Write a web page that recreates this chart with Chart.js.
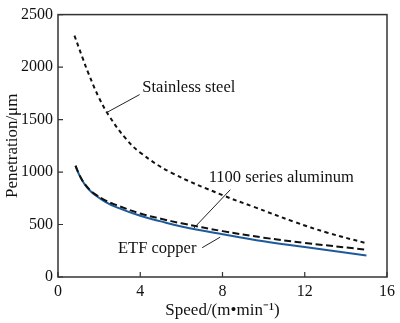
<!DOCTYPE html>
<html><head><meta charset="utf-8">
<script src="https://cdn.jsdelivr.net/npm/chart.js@4"></script>
<style>html,body{margin:0;padding:0;background:#fff}</style>
</head><body>
<canvas id="c" width="400" height="323"></canvas>
<script>
// ---- data ----
const stainlessX = [0.8, 1.2, 1.5, 2, 2.5, 3.3, 4, 5.5, 8, 9.5, 11.5, 13.1, 15];
const stainlessY = [2300, 2085, 1930, 1705, 1530, 1318, 1185, 995, 780, 670, 525, 422, 322];
const aluminumX = [0.85, 1.05, 1.3, 1.55, 1.8, 2.3, 2.8, 4, 5, 6, 8, 10, 12, 15];
const aluminumY = [1060, 968, 886, 830, 790, 730, 688, 605, 555, 512, 437, 375, 325, 260];
const copperX = [0.85, 1.05, 1.3, 1.55, 1.8, 2.3, 2.8, 4, 5, 6, 8, 10, 12, 15];
const copperY = [1060, 966, 882, 824, 781, 716, 668, 583, 530, 482, 408, 340, 285, 205];
const xTicks = [0, 4, 8, 12, 16];
const yTicks = [0, 500, 1000, 1500, 2000, 2500];
const xTitle = 'Speed/(m\u2022min\u207B\u00B9)';
const yTitle = 'Penetration/\u03BCm';
const seriesNames = ['Stainless steel', '1100 series aluminum', 'ETF copper'];

const pts = (xs, ys) => xs.map((x, i) => ({x, y: ys[i]}));
const SERIF = '"Liberation Serif", "Times New Roman", serif';
const BLUE = '#1d5a9c';

// annotation label anchors in data units (text start, leader from -> to)
const notes = [
  {text: seriesNames[0], tx: 4.1, ty: 1800, align: 'left', l: [3.97, 1738, 2.37, 1567]},
  {text: seriesNames[1], tx: 7.33, ty: 947, align: 'left', l: [8.38, 832, 6.61, 466]},
  {text: seriesNames[2], tx: 2.92, ty: 272, align: 'left', l: [7.01, 279, 7.89, 380]}
];

const frame = {
  id: 'frame',
  afterDatasetsDraw(chart) {
    const {ctx, chartArea: a, scales: {x, y}} = chart;
    ctx.save();
    ctx.strokeStyle = '#333';
    ctx.lineWidth = 1.5;
    ctx.strokeRect(a.left, a.top, a.right - a.left, a.bottom - a.top);
    ctx.lineWidth = 1.2;
    ctx.beginPath();
    xTicks.forEach(v => { const px = x.getPixelForValue(v); ctx.moveTo(px, a.bottom); ctx.lineTo(px, a.bottom - 5); });
    yTicks.forEach(v => { const py = y.getPixelForValue(v); ctx.moveTo(a.left, py); ctx.lineTo(a.left + 5, py); });
    ctx.stroke();
    // annotations
    ctx.fillStyle = '#111';
    ctx.strokeStyle = '#222';
    ctx.lineWidth = 1;
    ctx.font = '16.5px ' + SERIF;
    ctx.textBaseline = 'middle';
    notes.forEach(n => {
      ctx.textAlign = n.align;
      ctx.fillText(n.text, x.getPixelForValue(n.tx), y.getPixelForValue(n.ty));
      ctx.beginPath();
      ctx.moveTo(x.getPixelForValue(n.l[0]), y.getPixelForValue(n.l[1]));
      ctx.lineTo(x.getPixelForValue(n.l[2]), y.getPixelForValue(n.l[3]));
      ctx.stroke();
    });
    ctx.restore();
  }
};

new Chart(document.getElementById('c'), {
  type: 'line',
  data: {
    datasets: [
      {label: seriesNames[0], data: pts(stainlessX, stainlessY), borderColor: '#111', borderWidth: 2, borderDash: [4, 3.5], order: 0},
      {label: seriesNames[1], data: pts(aluminumX, aluminumY), borderColor: '#111', borderWidth: 2, borderDash: [7, 3.5], order: 1},
      {label: seriesNames[2], data: pts(copperX, copperY), borderColor: BLUE, borderWidth: 2, order: 2}
    ]
  },
  options: {
    responsive: false,
    animation: false,
    devicePixelRatio: 1,
    layout: {padding: {top: 10, right: 11, bottom: 0, left: 0}},
    elements: {point: {radius: 0}, line: {tension: 0.4, fill: false}},
    plugins: {legend: {display: false}, tooltip: {enabled: false}},
    scales: {
      x: {
        type: 'linear', min: 0, max: 16,
        afterBuildTicks: s => { s.ticks = xTicks.map(v => ({value: v})); },
        afterFit: s => { s.height = 46; },
        grid: {display: false, drawTicks: false},
        border: {display: false},
        ticks: {color: '#111', font: {family: SERIF, size: 16}, padding: 5, maxRotation: 0, callback: v => String(v)},
        title: {display: true, text: xTitle, color: '#111', font: {family: SERIF, size: 17}, padding: {top: 0, bottom: 2}}
      },
      y: {
        type: 'linear', min: 0, max: 2500,
        afterBuildTicks: s => { s.ticks = yTicks.map(v => ({value: v})); },
        afterFit: s => { s.width = 58; },
        grid: {display: false, drawTicks: false},
        border: {display: false},
        ticks: {color: '#111', font: {family: SERIF, size: 16}, padding: 5, callback: v => String(v)},
        title: {display: true, text: yTitle, color: '#111', font: {family: SERIF, size: 17}, padding: {top: 2, bottom: 0}}
      }
    }
  },
  plugins: [frame]
});
</script>
</body></html>
